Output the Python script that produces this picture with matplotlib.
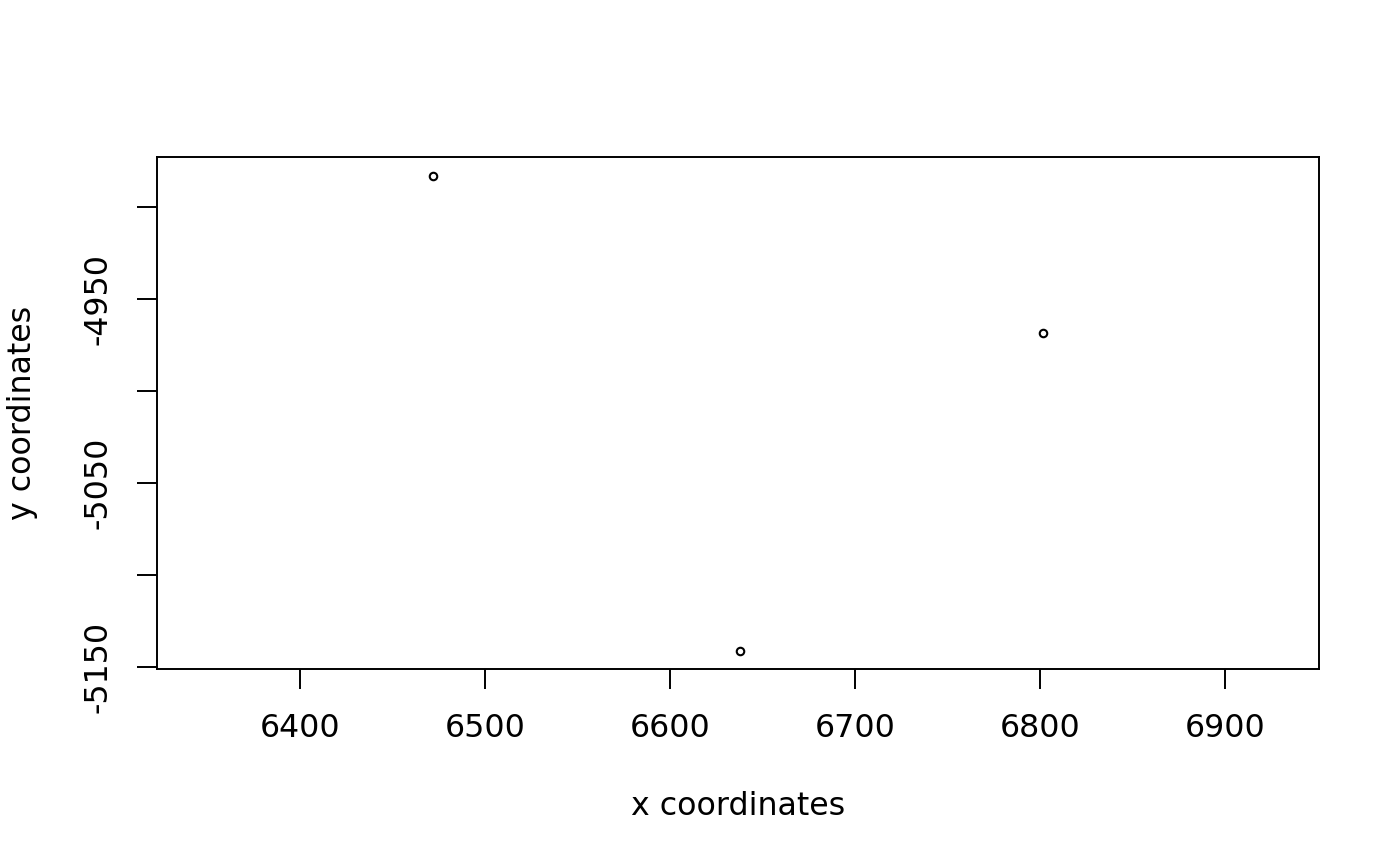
import matplotlib.pyplot as plt

# points
x = [6471.9, 6801.6, 6637.8]
y = [-4883.2, -4968.5, -5141.3]

# graduations
xticks = [6400, 6500, 6600, 6700, 6800, 6900]
yticks = [-5150, -5100, -5050, -5000, -4950, -4900]
ytick_labels = ['-5150', '', '-5050', '', '-4950', '']

fig = plt.figure(figsize=(14, 8.66), dpi=100)
ax = fig.add_axes([157 / 1400, 1 - 669 / 866, 1162 / 1400, 512 / 866])

ax.plot(x, y, linestyle='none', marker='o', markersize=5.4,
        markerfacecolor='none', markeredgecolor='black', markeredgewidth=1.5)

ax.set_xlim(6322.7, 6950.8)
ax.set_ylim(-5151.1, -4872.8)

ax.set_xticks(xticks)
ax.set_yticks(yticks)
ax.set_yticklabels(ytick_labels)
plt.setp(ax.get_yticklabels(), rotation=90, va='center')

ax.tick_params(direction='out', length=14.4, width=1.4, labelsize=22.8, colors='black')
ax.tick_params(axis='x', pad=17)
ax.tick_params(axis='y', pad=17)

for s in ax.spines.values():
    s.set_linewidth(1.4)

ax.set_xlabel('x coordinates', fontsize=22.8)
ax.set_ylabel('y coordinates', fontsize=22.8)
ax.xaxis.set_label_coords(0.5, -0.239)
ax.yaxis.set_label_coords(-0.102, 0.5)

fig.savefig('out.png', dpi=100)
